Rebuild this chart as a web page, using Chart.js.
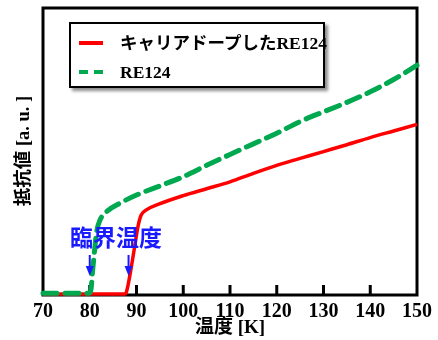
<!DOCTYPE html>
<html>
<head>
<meta charset="utf-8">
<script src="https://cdn.jsdelivr.net/npm/chart.js@4.4.0/dist/chart.umd.min.js"></script>
<style>
  html, body { margin: 0; padding: 0; background: #fff; }
  #wrap { position: relative; width: 438px; height: 340px; overflow: hidden; }
  #legend {
    position: absolute; left: 69px; top: 22px; width: 252px; height: 62px;
    border: 2px solid #000; background: #fff;
    box-shadow: 3px 3px 3px rgba(0,0,0,0.45);
    font-family: 'Liberation Serif', 'Noto Sans CJK JP', serif; font-weight: bold; font-size: 17.5px; color: #000;
  }
  .item { position: absolute; left: 0; height: 20px; }
  .item .lbl { position: absolute; left: 49px; top: 0; white-space: nowrap; line-height: 20px; }
  .item .smp { position: absolute; left: 8px; top: 8px; width: 24px; height: 4px; }
  #anno {
    position: absolute; left: 70px; top: 223px; color: #1a1aff;
    font-family: 'Noto Sans CJK JP', sans-serif; font-weight: bold; font-size: 23px; line-height: 27px;
    white-space: nowrap;
  }
</style>
</head>
<body>
<div id="wrap">
  <canvas id="c" width="438" height="340"></canvas>
  <div id="legend">
    <div class="item" style="top:9px;">
      <div class="smp" style="background:#ff0000;"></div>
      <div class="lbl">キャリアドープしたRE124</div>
    </div>
    <div class="item" style="top:38px;">
      <div class="smp" style="background:linear-gradient(90deg,#00a84f 0 9px,transparent 9px 15px,#00a84f 15px 24px);"></div>
      <div class="lbl">RE124</div>
    </div>
  </div>
  <div id="anno">臨界温度</div>
</div>
<script>
// Temperature [K] and resistance [a.u.]
const redTemps  = [70, 80, 87.5, 87.8, 88.3, 88.9, 89.6, 90.3, 91.0, 92.1, 94.9, 100, 105, 110, 115, 120, 125, 130, 135, 140, 145, 150];
const redValues = [0, 0, 0, 0.5, 4, 9.5, 16.5, 23.5, 27.6, 29.4, 31.5, 34.4, 36.8, 39.2, 42.2, 45.0, 47.4, 49.8, 52.2, 54.7, 57.0, 59.3];

const greenTemps  = [70, 75, 80, 80.3, 80.6, 80.9, 81.2, 81.5, 82.2, 83.6, 86.4, 90, 95, 100, 105, 110, 115, 120, 125, 130, 135, 140, 145, 150];
const greenValues = [0.3, 0.3, 0.3, 2, 8, 13, 18, 22, 25.9, 28.8, 31.7, 34.6, 37.8, 41, 45, 48.8, 52.5, 56.2, 60.3, 63.7, 67, 70.7, 75, 80];

const xTickValues = [70, 80, 90, 100, 110, 120, 130, 140, 150];
const innerTicks  = [80, 90, 100, 110, 120, 130, 140];
const arrowTemps  = [80, 88.3];

const toPts = (ts, vs) => ts.map((t, i) => ({x: t, y: vs[i]}));

const framePlugin = {
  id: 'frame',
  beforeDatasetsDraw(chart) {
    const {ctx, chartArea: a, scales} = chart;
    ctx.save();
    ctx.strokeStyle = '#000';
    ctx.lineWidth = 3;
    ctx.strokeRect(a.left, a.top, a.right - a.left, a.bottom - a.top + 1);
    innerTicks.forEach(v => {
      const x = scales.x.getPixelForValue(v);
      ctx.beginPath();
      ctx.moveTo(x, a.bottom + 1);
      ctx.lineTo(x, a.bottom - 9);
      ctx.stroke();
    });
    ctx.restore();
  },
  afterDatasetsDraw(chart) {
    const {ctx, scales} = chart;
    ctx.save();
    ctx.strokeStyle = '#1a1aff';
    ctx.fillStyle = '#1a1aff';
    ctx.lineWidth = 2;
    arrowTemps.forEach(t => {
      const x = scales.x.getPixelForValue(t);
      ctx.beginPath();
      ctx.moveTo(x, 255);
      ctx.lineTo(x, 268);
      ctx.stroke();
      ctx.beginPath();
      ctx.moveTo(x - 4, 266);
      ctx.lineTo(x + 4, 266);
      ctx.lineTo(x, 276);
      ctx.closePath();
      ctx.fill();
    });
    ctx.restore();
  }
};

new Chart(document.getElementById('c'), {
  type: 'line',
  data: {
    datasets: [
      {
        label: 'RE124',
        data: toPts(greenTemps, greenValues),
        borderColor: '#00a84f',
        borderWidth: 5,
        borderDash: [14, 8],
        borderCapStyle: 'round',
        pointRadius: 0,
        cubicInterpolationMode: 'monotone',
        clip: false
      },
      {
        label: 'キャリアドープしたRE124',
        data: toPts(redTemps, redValues),
        borderColor: '#ff0000',
        borderWidth: 3.5,
        pointRadius: 0,
        cubicInterpolationMode: 'monotone',
        clip: false
      }
    ]
  },
  options: {
    responsive: false,
    animation: false,
    events: [],
    layout: { padding: { top: 8, right: 19, left: 0, bottom: 0 } },
    plugins: { legend: { display: false }, tooltip: { enabled: false } },
    scales: {
      x: {
        type: 'linear', min: 70, max: 150,
        afterBuildTicks(s) { s.ticks = xTickValues.map(v => ({value: v})); },
        afterFit(s) { s.height = 46; },
        grid: { display: false, drawTicks: false },
        border: { display: false },
        ticks: {
          padding: 6, color: '#000', maxRotation: 0,
          font: { family: "'Liberation Serif', serif", weight: 'bold', size: 20 }
        },
        title: {
          display: true, text: '温度 [K]', color: '#000',
          font: { family: "'Liberation Serif', 'Noto Sans CJK JP', serif", weight: 'bold', size: 19, lineHeight: 1 },
          padding: { top: 0, bottom: 2 }
        }
      },
      y: {
        type: 'linear', min: 0, max: 100,
        afterFit(s) { s.width = 43; },
        grid: { display: false, drawTicks: false },
        border: { display: false },
        ticks: { display: false },
        title: {
          display: true, text: '抵抗値 [a. u. ]', color: '#000',
          font: { family: "'Liberation Serif', 'Noto Sans CJK JP', serif", weight: 'bold', size: 18.5, lineHeight: 1 },
          padding: { top: 15, bottom: 0 }
        }
      }
    }
  },
  plugins: [framePlugin]
});
</script>
</body>
</html>
